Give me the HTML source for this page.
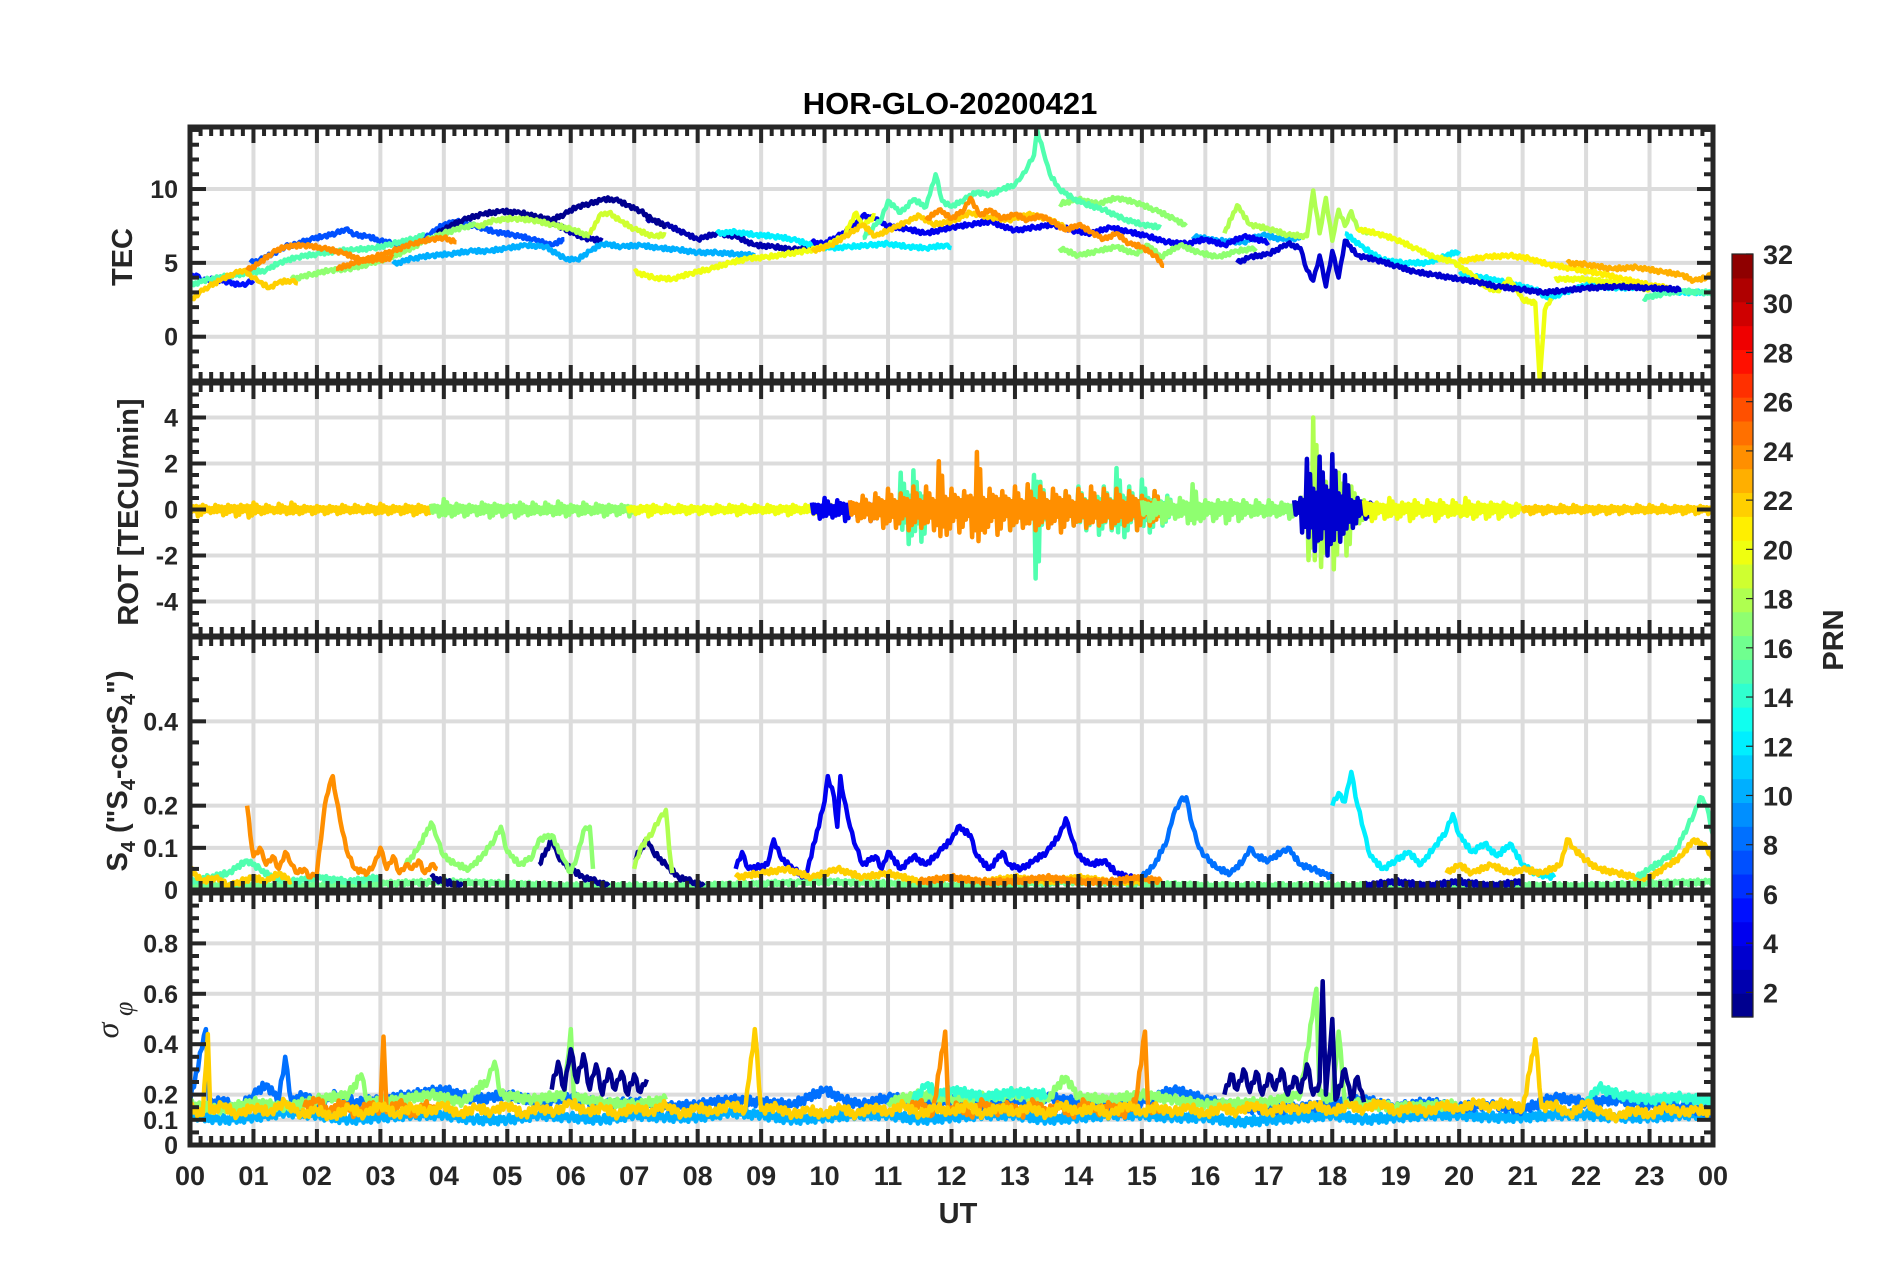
<!DOCTYPE html>
<html><head><meta charset="utf-8"><style>
html,body{margin:0;padding:0;background:#fff;}
svg{display:block;font-family:"Liberation Sans",sans-serif;}
</style></head><body>
<svg id="fig" width="1902" height="1272" viewBox="0 0 1902 1272" xmlns="http://www.w3.org/2000/svg">
<rect x="0" y="0" width="1902" height="1272" fill="#fff"/>
<text x="950" y="114" text-anchor="middle" font-size="31" font-weight="bold" fill="#000">HOR-GLO-20200421</text>
<g id="panels"></g>
<text x="958" y="1223" text-anchor="middle" font-size="29" font-weight="bold" fill="#262626">UT</text>
<text transform="translate(132,257) rotate(-90)" text-anchor="middle" font-size="29" font-weight="bold" fill="#262626">TEC</text>
<text transform="translate(138,512) rotate(-90)" text-anchor="middle" font-size="29" font-weight="bold" fill="#262626">ROT [TECU/min]</text>
<text transform="translate(127,771) rotate(-90)" text-anchor="middle" font-size="29" font-weight="bold" fill="#262626">S<tspan font-size="20" dy="8">4</tspan><tspan dy="-8"> ("S</tspan><tspan font-size="20" dy="8">4</tspan><tspan dy="-8">-corS</tspan><tspan font-size="20" dy="8">4</tspan><tspan dy="-8">")</tspan></text>
<text transform="translate(118,1020) rotate(-90)" text-anchor="middle" font-size="32" font-style="italic" font-family="Liberation Serif, serif" fill="#262626">σ<tspan font-size="26" dy="14"> φ</tspan></text>
<g id="cbar"></g>
<text transform="translate(1843,640) rotate(-90)" text-anchor="middle" font-size="29" font-weight="bold" fill="#262626">PRN</text>
</svg>
<script>
// ---------- TEC data [UT hour, TEC] ----------
const tecPrn5=[[0,4.0],[0.1,4.2],[0.2,3.8],[0.4,3.9],[0.6,3.7],[0.8,3.5],[0.9,3.6],[1.0,3.8]];
const tecPrn7=[[0.95,5.0],[1.1,5.2],[1.3,5.6],[1.5,6.1],[1.7,6.3],[1.9,6.6],[2.1,6.8],[2.3,7.0],[2.45,7.3],[2.6,6.9],[2.8,6.8],[3.0,6.5],[3.2,6.3],[3.4,6.2],[3.6,6.5],[3.8,7.0],[4.0,7.6],[4.2,7.8],[4.5,7.5],[4.8,7.1],[5.1,6.9],[5.4,6.6],[5.7,6.2],[5.9,6.6]];
const tecPrn1=[[3.9,7.0],[4.1,7.5],[4.3,7.9],[4.6,8.3],[4.9,8.5],[5.2,8.4],[5.5,8.1],[5.7,7.9],[5.9,8.3],[6.1,8.8],[6.3,9.0],[6.5,9.3],[6.7,9.3],[6.9,8.9],[7.1,8.5],[7.3,7.9],[7.5,7.5]];
const tecPrn2=[[5.6,8.0],[5.9,7.3],[6.2,6.7],[6.5,6.5],null,[7.2,8.0],[7.5,7.6],[7.8,7.0],[8.0,6.6],[8.3,7.0],[8.6,6.8],[8.9,6.2],[9.2,6.1],[9.5,5.9],[9.8,6.0]];
const tecPrn4=[[9.8,6.4],[10.0,6.3],[10.2,6.8],[10.4,7.2],[10.6,8.2],[10.8,8.0],[11.0,7.5],[11.3,7.3],[11.6,7.0],[12.0,7.4],[12.3,7.6],[12.6,7.8],[13.0,7.2],[13.3,7.4],[13.6,7.6],[13.9,7.2],[14.2,7.0],[14.5,7.4],[14.8,7.1],[15.1,6.8],[15.4,6.4],[15.7,6.3],[16.0,6.6],[16.3,6.2],[16.6,6.8],[17.0,6.4]];
const tecPrn3=[[16.5,5.0],[16.7,5.4],[17.0,5.6],[17.3,6.3],[17.5,6.0],[17.6,4.5],[17.7,3.8],[17.8,5.5],[17.9,3.4],[18.0,5.8],[18.1,4.0],[18.2,6.5],[18.4,5.5],[18.7,5.2],[19.0,4.8],[19.3,4.4],[19.6,4.2],[20.0,3.9],[20.3,3.7],[20.6,3.4],[21.0,3.2],[21.3,3.0],[21.6,3.1],[22.0,3.3],[22.5,3.4],[23.0,3.3],[23.5,3.2]];
const tecPrn10=[[3.2,4.9],[3.5,5.3],[3.8,5.5],[4.1,5.6],[4.4,5.8],[4.7,5.8],[5.0,6.0],[5.3,6.2],[5.6,6.1],[5.9,5.3],[6.1,5.2],[6.3,5.8],[6.5,6.3],[6.8,6.1],[7.1,6.2],[7.4,6.0],[7.7,5.9],[8.0,5.7],[8.3,5.7],[8.6,5.6],[8.9,5.5],null,[15.8,6.8],[16.2,6.5],[16.6,6.4],[16.9,6.9],[17.2,6.6],[17.5,6.7]];
const tecPrn12=[[8.3,7.0],[8.6,7.1],[8.9,6.9],[9.2,6.8],[9.5,6.6],[9.8,6.2],[10.1,6.0],[10.4,6.1],[10.7,6.2],[11.0,6.3],[11.3,6.1],[11.6,6.0],[11.9,6.2],[12.0,6.0],null,[18.2,7.0],[18.5,6.0],[18.8,5.2],[19.1,5.0],[19.5,5.0],[19.8,5.5],[20.0,5.8],null,[20.0,4.2],[20.4,4.0],[20.8,3.6],[21.2,3.2],[21.4,2.6],[21.6,2.9],[22.0,3.5],[22.5,3.3],[23.0,3.4],[23.5,3.0],[24,3.0]];
const tecPrn15=[[0,3.5],[0.3,3.9],[0.6,4.1],[0.9,4.3],[1.2,4.5],[1.4,5.0],[1.7,5.4],[2.0,5.6],[2.3,5.8],[2.6,5.9],[2.9,6.0],[3.2,6.3],[3.5,6.6],[3.7,6.9],null,[10.6,6.7],[10.9,8.0],[11.0,9.2],[11.2,8.4],[11.4,9.3],[11.6,8.8],[11.75,11.0],[11.85,9.2],[12.0,8.8],[12.2,9.3],[12.4,9.8],[12.6,9.6],[12.8,10.0],[13.0,10.3],[13.1,10.8],[13.2,11.5],[13.3,12.3],[13.35,14.0],[13.45,12.5],[13.55,11.0],[13.7,10.0],[13.9,9.4],[14.1,9.0],[14.4,8.6],[14.7,8.0],[15.0,7.6],[15.3,7.4],null,[22.9,2.6],[23.2,2.9],[23.5,3.1],[23.8,3.0],[24,3.0]];
const tecPrn17=[[1.6,3.9],[1.9,4.2],[2.2,4.5],[2.5,4.6],[2.8,4.9],[3.1,5.3],[3.4,5.8],[3.7,6.5],[4.0,7.0],[4.3,7.4],[4.5,7.6],null,[13.7,9.0],[14.0,9.3],[14.3,9.0],[14.6,9.4],[14.9,9.1],[15.2,8.6],[15.5,8.0],[15.7,7.5],null,[13.7,6.0],[14.0,5.5],[14.3,5.8],[14.6,6.1],[14.9,5.6],[15.1,6.2],[15.3,5.4],[15.6,6.2],[15.9,5.7],[16.2,5.4],[16.5,5.8],[16.8,6.0]];
const tecPrn18=[[4.5,7.4],[4.8,7.9],[5.1,8.0],[5.4,7.9],[5.7,7.6],[6.0,7.3],[6.3,6.8],null,[16.3,7.0],[16.5,8.9],[16.7,7.6],[17.0,7.3],[17.3,6.9],[17.6,6.8],[17.7,9.9],[17.8,7.0],[17.9,9.4],[18.0,6.5],[18.1,8.6],[18.2,7.5],[18.3,8.5],[18.4,7.3],[18.6,7.0]];
const tecPrn19=[[6.3,6.9],[6.45,8.2],[6.6,8.4],[6.8,7.8],[7.0,7.3],[7.3,6.8],[7.5,6.9]];
const tecPrn20=[[7.0,4.4],[7.3,4.0],[7.6,3.9],[7.9,4.3],[8.2,4.6],[8.5,5.0],[8.8,5.3],[9.1,5.4],[9.4,5.6],[9.7,5.8],[10.0,6.1],[10.3,6.8],[10.5,8.4],[10.6,7.5],[10.8,8.2],null,[18.4,7.3],[18.7,7.0],[19.0,6.6],[19.3,6.0],[19.6,5.4],[19.9,5.1],[20.2,4.2],[20.4,3.4],[20.6,3.1],[20.8,3.9],[21.0,2.5],[21.2,2.3],[21.27,-3.0],[21.35,1.8],[21.45,2.6],null,[21.5,3.9],[22.0,3.9],[22.5,3.6],[23.0,3.2]];
const tecPrn21=[[20.0,5.1],[20.4,5.4],[20.8,5.5],[21.1,5.3],[21.4,4.9],[21.8,4.6],[22.2,4.3],[22.6,3.9],[23.0,3.5],[23.3,3.3]];
const tecPrn22=[[0,2.4],[0.15,3.0],[0.3,3.4],[0.5,3.9],[0.7,4.3],[0.85,4.5],[1.0,4.0],[1.1,3.7],[1.25,3.3],[1.4,3.7],[1.6,3.8],[1.7,3.6],null,[9.8,5.8],[10.1,6.2],[10.4,7.0],[10.6,7.6],[10.8,6.8],[11.0,7.2],[11.3,7.8],[11.5,8.2],[11.7,7.6],[12.0,7.8],[12.3,8.4],[12.6,8.1],[12.9,7.9],[13.2,8.3],[13.5,8.0],[13.8,7.4]];
const tecPrn23=[[21.7,5.0],[22.0,4.9],[22.4,4.6],[22.8,4.7],[23.2,4.4],[23.5,4.2],[23.7,3.8],[23.9,4.0],[24,4.5]];
const tecPrn24=[[0.9,4.5],[1.1,5.0],[1.3,5.7],[1.5,6.1],[1.8,6.2],[2.1,6.0],[2.4,5.7],[2.7,5.2],[3.0,5.2],[3.2,5.4],null,[2.3,4.6],[2.6,5.0],[2.9,5.4],[3.2,5.8],[3.5,6.3],[3.8,6.6],[4.0,6.7],[4.2,6.4],null,[11.6,7.9],[11.8,8.6],[12.0,8.0],[12.2,8.6],[12.3,9.4],[12.45,8.2],[12.6,8.6],[12.8,8.0],[13.0,8.3],[13.2,7.9],[13.4,8.2],[13.6,7.8],[13.8,7.2],[14.0,7.6],[14.2,7.1],[14.4,6.6],[14.6,7.0],[14.8,6.3],[15.0,6.1],[15.2,5.5],[15.35,4.8]];

// ---------- ROT amplitude data (start hour, 0.1 h step) ----------
const rotPrn22a=[0.2,0.3,0.2,0.15,0.2,0.25,0.2,0.3,0.2,0.35,0.3,0.2,0.2,0.15,0.25,0.2,0.3,0.2,0.15,0.2,0.15,0.2,0.15,0.2,0.2,0.15,0.2,0.15,0.2,0.2,0.25,0.2,0.15,0.2,0.2,0.25,0.2,0.2,0.15,0.2];
const rotPrn17a=[0.25,0.3,0.45,0.3,0.25,0.3,0.2,0.25,0.3,0.35,0.25,0.3,0.2,0.35,0.3,0.25,0.3,0.2,0.3,0.25,0.35,0.3,0.2,0.25,0.3,0.2,0.25,0.3,0.2,0.25,0.2,0.3];
const rotPrn20a=[0.15,0.2,0.15,0.3,0.2,0.15,0.2,0.15,0.2,0.2,0.15,0.2,0.15,0.2,0.2,0.15,0.2,0.25,0.2,0.15,0.2,0.15,0.2,0.2,0.15,0.25,0.2,0.15,0.2,0.2,0.15,0.2,0.2];
const rotPrn4a=[0.3,0.4,0.5,0.35,0.4,0.5,0.3,0.45,0.4,0.5,0.35,0.4];
const rotPrn15a=[0.5,0.6,1.6,1.5,1.7,1.4,0.8,0.7,0.6,0.8,0.7,0.6,0.7,0.8,0.9,0.7,0.6,0.8,0.7,0.9,0.8,0.7,1.0,3.0,1.2,0.8,0.7,0.9,0.8,0.7,1.0,0.9,0.8,1.1,1.0,0.9,1.8,1.2,1.0,0.9,1.3,1.0,0.8,0.7,0.6];
const rotPrn24a=[0.4,0.5,0.6,0.5,0.7,0.8,0.9,0.8,0.7,0.9,1.0,0.8,1.0,0.9,2.1,1.1,0.9,1.0,0.8,1.2,2.5,1.0,0.9,1.1,0.8,0.9,1.0,0.8,1.1,0.9,1.0,0.8,0.9,1.0,0.8,0.7,0.9,0.8,1.0,0.7,0.9,0.8,0.9,0.7,0.8,0.9,0.6,0.7,0.8,0.5];
const rotPrn17b=[0.4,0.5,0.4,0.6,0.5,0.4,0.5,0.6,1.1,0.5,0.4,0.5,0.4,0.6,0.4,0.5,0.4,0.3,0.4,0.3,0.4,0.3,0.3,0.4,0.3];
const rotPrn18a=[0.6,2.2,4.0,2.5,1.2,2.6,1.6,2.0,1.0,0.6,0.4];
const rotPrn3a=[0.4,1.0,2.2,1.8,2.3,2.0,2.4,1.4,1.5,0.8,0.5,0.4,0.3];
const rotPrn20b=[0.4,0.5,0.3,0.4,0.5,0.4,0.3,0.5,0.4,0.3,0.4,0.5,0.4,0.3,0.4,0.3,0.5,0.4,0.3,0.4,0.3,0.4,0.3,0.3,0.25];
const rotPrn22b=[0.15,0.2,0.15,0.2,0.15,0.15,0.2,0.15,0.2,0.15,0.15,0.2,0.15,0.2,0.15,0.2,0.15,0.15,0.2,0.15,0.2,0.15,0.2,0.15,0.15,0.2,0.15,0.2,0.15,0.2];
const rotStarts=[0,3.8,6.9,9.8,11.0,10.4,15.0,17.5,17.4,18.5,21.0];

// ---------- S4 data ----------
const s4Prn16=[[0,0.01],[2,0.01],[4,0.02],[6,0.01],[8,0.01],[10,0.02],[12,0.01],[14,0.02],[16,0.01],[18,0.01],[20,0.01],[22,0.01],[24,0.02]];
const s4Prn2=[[18.5,0.01],[19,0.02],[19.5,0.01],[20,0.02],[20.5,0.01],[21,0.02]];
const s4Prn15a=[[0,0.02],[0.3,0.03],[0.6,0.04],[0.9,0.07],[1.1,0.05],[1.3,0.03],[1.6,0.02],[2.0,0.03],[2.5,0.02],[3.0,0.03]];
const s4Prn22a=[[0,0.05],[0.2,0.02],[0.4,0.03],[0.6,0.01],[0.8,0.02],[1.0,0.03],[1.2,0.02],[1.4,0.04],[1.6,0.02]];
const s4Prn24=[[0.9,0.20],[0.95,0.13],[1.0,0.08],[1.1,0.10],[1.2,0.06],[1.3,0.08],[1.4,0.05],[1.5,0.09],[1.6,0.06],[1.7,0.04],[1.8,0.05],[1.9,0.03],[2.0,0.04],[2.1,0.17],[2.15,0.22],[2.2,0.25],[2.25,0.27],[2.3,0.22],[2.4,0.14],[2.5,0.08],[2.6,0.05],[2.8,0.04],[2.9,0.06],[3.0,0.10],[3.1,0.05],[3.2,0.08],[3.3,0.04],[3.4,0.06],[3.5,0.05],[3.6,0.07],[3.7,0.04],[3.8,0.06],[3.9,0.05]];
const s4Prn1=[[3.8,0.03],[4.0,0.02],[4.3,0.01],null,[5.5,0.06],[5.7,0.12],[5.8,0.08],[6.0,0.05],[6.2,0.03],[6.4,0.02],[6.6,0.01],null,[7.0,0.07],[7.2,0.12],[7.3,0.09],[7.5,0.06],[7.7,0.03],[7.9,0.02],[8.1,0.01]];
const s4Prn17=[[3.4,0.06],[3.6,0.10],[3.8,0.16],[3.9,0.12],[4.0,0.08],[4.2,0.06],[4.4,0.05],[4.6,0.08],[4.8,0.12],[4.9,0.15],[5.0,0.09],[5.2,0.06],[5.4,0.08],[5.5,0.12],[5.7,0.13],[5.9,0.07],[6.0,0.04],[6.1,0.08],[6.2,0.14],[6.3,0.15],[6.35,0.05]];
const s4Prn18=[[7.0,0.05],[7.1,0.10],[7.3,0.14],[7.4,0.17],[7.5,0.19],[7.55,0.10],[7.6,0.04]];
const s4Prn22b=[[8.6,0.03],[9.0,0.04],[9.4,0.05],[9.8,0.03],[10.2,0.05],[10.6,0.03],[11.0,0.04],[11.5,0.02],[12.0,0.03],[12.5,0.02],[13.0,0.03],[13.5,0.02],[14.0,0.03],[14.5,0.02],[15.0,0.02]];
const s4Prn24b=[[11.5,0.02],[12,0.03],[12.5,0.02],[13,0.02],[13.5,0.03],[14,0.02],[14.5,0.02],[15.0,0.03],[15.3,0.02]];
const s4Prn4=[[8.6,0.05],[8.7,0.09],[8.8,0.05],[9.1,0.06],[9.2,0.12],[9.3,0.08],[9.5,0.05],[9.7,0.03],[10.0,0.21],[10.05,0.27],[10.15,0.22],[10.2,0.15],[10.25,0.27],[10.3,0.22],[10.4,0.15],[10.5,0.10],[10.6,0.06],[10.8,0.08],[10.9,0.05],[11.0,0.09],[11.2,0.05],[11.4,0.08],[11.6,0.06],[11.8,0.09],[12.0,0.12],[12.1,0.15],[12.3,0.13],[12.4,0.08],[12.6,0.05],[12.8,0.09],[12.9,0.06],[13.1,0.05],[13.3,0.07],[13.5,0.09],[13.7,0.13],[13.8,0.17],[13.9,0.12],[14.0,0.08],[14.2,0.06],[14.4,0.07],[14.6,0.04],[14.8,0.03],[15.0,0.02]];
const s4Prn8=[[15.0,0.03],[15.2,0.06],[15.4,0.12],[15.5,0.18],[15.6,0.21],[15.7,0.22],[15.8,0.15],[15.9,0.10],[16.0,0.08],[16.2,0.05],[16.4,0.04],[16.6,0.07],[16.7,0.10],[16.8,0.08],[17.0,0.07],[17.2,0.09],[17.3,0.10],[17.5,0.06],[17.7,0.05],[18.0,0.03]];
const s4Prn12=[[18.0,0.20],[18.1,0.23],[18.2,0.21],[18.3,0.28],[18.4,0.20],[18.5,0.14],[18.6,0.08],[18.8,0.05],[19.0,0.07],[19.2,0.09],[19.4,0.06],[19.6,0.10],[19.8,0.14],[19.9,0.18],[20.0,0.13],[20.2,0.09],[20.4,0.11],[20.6,0.08],[20.8,0.11],[21.0,0.06],[21.2,0.04],[21.5,0.03]];
const s4Prn22c=[[19.8,0.04],[20.0,0.06],[20.2,0.04],[20.5,0.06],[20.8,0.04],[21.0,0.05],[21.3,0.04],[21.6,0.06],[21.7,0.12],[21.8,0.10],[22.0,0.07],[22.2,0.05],[22.5,0.04],[22.8,0.03],[23.0,0.03],[23.3,0.06],[23.5,0.08],[23.7,0.12],[23.9,0.10],[24,0.07]];
const s4Prn15b=[[22.8,0.03],[23.0,0.05],[23.2,0.07],[23.4,0.09],[23.6,0.15],[23.7,0.18],[23.8,0.22],[23.9,0.20],[24,0.13]];

// ---------- sigma-phi data ----------
const sigPrn10=[[0,0.12],[0.5,0.10],[1,0.11],[1.5,0.13],[2,0.12],[2.5,0.10],[3,0.11],[3.5,0.12],[4,0.12],[4.5,0.10],[5,0.10],[5.5,0.12],[6,0.11],[6.5,0.10],[7,0.12],[7.5,0.11],[8,0.11],[8.5,0.13],[9,0.12],[9.5,0.10],[10,0.11],[10.5,0.12],[11,0.12],[11.5,0.10],[12,0.11],[12.5,0.12],[13,0.12],[13.5,0.10],[14,0.11],[14.5,0.12],[15,0.12],[15.5,0.11],[16,0.11],[16.5,0.09],[17,0.10],[17.5,0.11],[18,0.12],[18.5,0.10],[19,0.11],[19.5,0.12],[20,0.12],[20.5,0.11],[21,0.11],[21.5,0.12],[22,0.12],[22.5,0.11],[23,0.11],[23.5,0.12],[24,0.12]];
const sigPrn8=[[0,0.17],[0.25,0.46],[0.3,0.16],[0.5,0.18],[0.75,0.14],[1.0,0.2],[1.2,0.24],[1.4,0.18],[1.5,0.35],[1.6,0.17],[1.8,0.2],[2.0,0.16],[2.3,0.2],[2.6,0.17],[3,0.18],[3.5,0.2],[4,0.22],[4.5,0.18],[5,0.2],[5.5,0.17],[6,0.19],[6.5,0.16],[7,0.17],[7.5,0.15],[8,0.16],[8.5,0.18],[9,0.17],[9.5,0.16],[10,0.22],[10.3,0.18],[10.6,0.16],[11,0.19],[11.5,0.17],[12,0.18],[12.5,0.16],[13,0.17],[13.5,0.19],[14,0.17],[14.5,0.16],[15,0.17],[15.5,0.22],[16,0.18],[16.5,0.15],[17,0.14],[17.5,0.15],[18,0.16],[18.5,0.18],[19,0.15],[19.5,0.17],[20,0.15],[20.5,0.16],[21,0.14],[21.5,0.19],[22,0.17],[22.5,0.18],[23,0.16],[23.5,0.15],[24,0.13]];
const sigPrn17=[[0,0.16],[0.5,0.14],[1,0.17],[1.5,0.15],[2,0.18],[2.5,0.2],[2.7,0.28],[2.8,0.17],[3.3,0.18],[3.8,0.2],[4.3,0.17],[4.7,0.26],[4.8,0.33],[4.9,0.2],[5.4,0.18],[5.9,0.2],[6.0,0.46],[6.05,0.19],[6.5,0.17],[7,0.16],[7.5,0.18],null,[11,0.17],[11.5,0.2],[12,0.18],[13,0.2],[13.5,0.18],[13.8,0.27],[14,0.19],[14.5,0.18],[15,0.2],[15.5,0.18],[16,0.16],[17,0.17],[17.5,0.2],[17.75,0.62],[17.8,0.2],[18,0.18],[18.1,0.45],[18.2,0.17],[19,0.15],[20,0.16]];
const sigPrn14=[[11.4,0.18],[11.6,0.24],[11.8,0.2],[12,0.22],[12.5,0.19],[13,0.21],[13.5,0.2],null,[22,0.17],[22.2,0.23],[22.5,0.2],[23,0.18],[23.5,0.19],[24,0.17]];
const sigPrn1=[[5.7,0.22],[5.8,0.33],[5.9,0.22],[6.0,0.38],[6.1,0.25],[6.2,0.36],[6.3,0.22],[6.4,0.32],[6.5,0.2],[6.6,0.3],[6.7,0.22],[6.8,0.29],[6.9,0.2],[7.0,0.28],[7.1,0.21],[7.2,0.26],null,[16.3,0.2],[16.4,0.28],[16.5,0.22],[16.6,0.3],[16.7,0.21],[16.8,0.29],[16.9,0.2],[17.0,0.28],[17.1,0.22],[17.2,0.3],[17.3,0.2],[17.4,0.27],[17.5,0.21],[17.6,0.32],[17.7,0.2],[17.8,0.25],[17.85,0.65],[17.9,0.2],[18.0,0.5],[18.05,0.18],[18.2,0.3],[18.3,0.18],[18.4,0.27],[18.5,0.17]];
const sigPrn24=[[1.8,0.15],[2,0.18],[2.2,0.13],[2.4,0.17],[2.6,0.12],[2.8,0.16],[3.0,0.14],[3.05,0.43],[3.1,0.13],[3.3,0.17],[3.5,0.12],[3.7,0.16],[3.9,0.13],null,[11.3,0.14],[11.5,0.17],[11.7,0.12],[11.9,0.45],[11.95,0.13],[12.1,0.16],[12.3,0.12],[12.5,0.17],[12.7,0.13],[12.9,0.16],[13.1,0.12],[13.3,0.17],[13.5,0.13],[13.7,0.16],[13.9,0.12],[14.1,0.17],[14.3,0.13],[14.5,0.16],[14.7,0.12],[14.9,0.17],[15.05,0.45],[15.1,0.14],[15.3,0.15]];
const sigPrn22=[[0,0.15],[0.2,0.12],[0.28,0.44],[0.32,0.13],[0.5,0.16],[0.75,0.12],[1,0.15],[1.25,0.13],[1.5,0.17],[1.75,0.12],[2,0.14],[2.25,0.11],[2.5,0.15],[2.75,0.12],[3,0.16],[3.25,0.12],[3.5,0.15],[3.75,0.13],[4,0.16],[4.25,0.12],[4.5,0.15],[4.75,0.13],[5,0.16],[5.25,0.12],[5.5,0.15],[5.75,0.13],[6,0.17],[6.25,0.13],[6.5,0.15],[6.75,0.12],[7,0.15],[7.25,0.13],[7.5,0.16],[7.75,0.12],[8,0.15],[8.25,0.13],[8.5,0.16],[8.75,0.14],[8.9,0.46],[9.0,0.14],[9.25,0.15],[9.5,0.12],[9.75,0.14],[10,0.12],[10.25,0.15],[10.5,0.12],[10.75,0.15],[11,0.13],[11.25,0.16],[11.5,0.12],[11.75,0.15],[12,0.13],[12.25,0.16],[12.5,0.12],[12.75,0.15],[13,0.13],[13.25,0.15],[13.5,0.12],[13.75,0.16],[14,0.13],[14.25,0.15],[14.5,0.12],[14.75,0.16],[15,0.13],[15.25,0.15],[15.5,0.13],[15.75,0.15],[16,0.12],[16.25,0.15],[16.5,0.13],[16.75,0.16],[17,0.13],[17.25,0.15],[17.5,0.14],[17.75,0.16],[18,0.13],[18.25,0.16],[18.5,0.14],[18.75,0.17],[19,0.13],[19.25,0.15],[19.5,0.13],[19.75,0.16],[20,0.14],[20.25,0.17],[20.5,0.15],[20.75,0.17],[21,0.14],[21.2,0.42],[21.3,0.15],[21.5,0.16],[21.75,0.12],[22,0.17],[22.25,0.13],[22.5,0.11],[22.75,0.14],[23,0.12],[23.25,0.15],[23.5,0.13],[23.75,0.14],[24,0.13]];

// ---------- axis tick labels ----------
const hourLabels=["00","01","02","03","04","05","06","07","08","09","10","11","12","13","14","15","16","17","18","19","20","21","22","23","00"];
const tecTicks=[0,5,10];
const rotTicks=[-4,-2,0,2,4];
const s4Ticks=[0,0.1,0.2,0.4];
const sigTicks=[0,0.1,0.2,0.4,0.6,0.8];
const cbarTicks=[2,4,6,8,10,12,14,16,18,20,22,24,26,28,30,32];

const NS="http://www.w3.org/2000/svg";
const X0=190,X1=1713;
const xs=h=>X0+(X1-X0)*h/24;
function jet(i,n){const x=(i+0.5)/n;const c=v=>Math.round(255*Math.max(0,Math.min(1,v)));
 return `rgb(${c(1.5-Math.abs(4*x-3))},${c(1.5-Math.abs(4*x-2))},${c(1.5-Math.abs(4*x-1))})`;}
const prnColor=p=>jet(p-1,32);
function mk(tag,attrs,parent){const e=document.createElementNS(NS,tag);for(const k in attrs)e.setAttribute(k,attrs[k]);parent.appendChild(e);return e;}
const root=document.getElementById('panels');
const panels={
 tec:{top:127,bot:381,min:-3,max:14.2,minor:1,ticks:tecTicks,fmt:v=>String(v),rip:0.13},
 rot:{top:383,bot:636,min:-5.5,max:5.5,minor:0.5,ticks:rotTicks,fmt:v=>String(v),rip:0},
 s4:{top:637,bot:890,min:0,max:0.6,minor:0.05,ticks:s4Ticks,fmt:v=>String(v),rip:0.006},
 sig:{top:893,bot:1145,min:0,max:1,minor:0.05,ticks:sigTicks,fmt:v=>String(v),rip:0.018}
};
function ys(p,v){return p.bot-(v-p.min)/(p.max-p.min)*(p.bot-p.top);}
// visual jitter pattern (rendering texture only)
const texture=[1,-0.7,0.4,-1,0.8,-0.3,0.6,-0.9];
function pathFrom(p,pts){let d='',prev=null,k=0;
 for(const q of pts){
  if(!q){prev=null;continue;}
  if(!prev){d+='M'+xs(q[0]).toFixed(1)+','+ys(p,q[1]).toFixed(1);prev=q;continue;}
  const dt=q[0]-prev[0];const n=p.rip>0?Math.max(1,Math.round(dt/0.03)):1;
  for(let s=1;s<=n;s++){const f=s/n;const t=prev[0]+dt*f;let v=prev[1]+(q[1]-prev[1])*f;
   if(s<n){v+=p.rip*texture[k%texture.length];k++;}
   d+='L'+xs(t).toFixed(1)+','+ys(p,v).toFixed(1);}
  prev=q;}
 return d;}

Object.keys(panels).forEach((key)=>{
 const p=panels[key];
 const g=mk('g',{},root);
 
 
 const cp=mk('clipPath',{id:'clip-'+key},g);
 mk('rect',{x:X0,y:p.top,width:X1-X0,height:p.bot-p.top},cp);
 const grid=mk('g',{stroke:'#dcdcdc','stroke-width':4},g);
 
 
 for(let h=1;h<24;h++) mk('line',{x1:xs(h),x2:xs(h),y1:p.top,y2:p.bot},grid);
 p.ticks.forEach(v=>{mk('line',{x1:X0,x2:X1,y1:ys(p,v),y2:ys(p,v)},grid);});
 p.series=mk('g',{'clip-path':`url(#clip-${key})`,fill:'none','stroke-width':4.5,'stroke-linejoin':'round'},g);
 
 
 p.axis=g;
});

function drawLine(key,pts,prn,name){const p=panels[key];
 const e=mk('path',{d:pathFrom(p,pts),stroke:prnColor(prn)},p.series);
 
 }

[[5,tecPrn5],[7,tecPrn7],[2,tecPrn2],[1,tecPrn1],[10,tecPrn10],[12,tecPrn12],[4,tecPrn4],[17,tecPrn17],[15,tecPrn15],[18,tecPrn18],[19,tecPrn19],[20,tecPrn20],[21,tecPrn21],[22,tecPrn22],[23,tecPrn23],[24,tecPrn24],[3,tecPrn3]]
 .forEach(s=>drawLine('tec',s[1],s[0],'tec-line-prn'+s[0]));

const rotShape=[1,-0.55,0.7,-0.35,0.5,-1,0.4,-0.75];
[[22,rotPrn22a],[17,rotPrn17a],[20,rotPrn20a],[4,rotPrn4a],[15,rotPrn15a],[24,rotPrn24a],[17,rotPrn17b],[18,rotPrn18a],[3,rotPrn3a],[20,rotPrn20b],[22,rotPrn22b]]
 .forEach((s,i)=>{const t0=rotStarts[i];const pts=[];
  s[1].forEach((a,j)=>{for(let q=0;q<4;q++){pts.push([t0+j*0.1+q*0.025,a*rotShape[(j*4+q)%rotShape.length]]);}});
  drawLine('rot',pts,s[0],'rot-line-prn'+s[0]);});

[[16,s4Prn16],[2,s4Prn2],[15,s4Prn15a],[22,s4Prn22a],[1,s4Prn1],[17,s4Prn17],[18,s4Prn18],[4,s4Prn4],[22,s4Prn22b],[24,s4Prn24b],[8,s4Prn8],[12,s4Prn12],[22,s4Prn22c],[15,s4Prn15b],[24,s4Prn24]]
 .forEach(s=>drawLine('s4',s[1],s[0],'s4-line-prn'+s[0]));

[[10,sigPrn10],[8,sigPrn8],[17,sigPrn17],[14,sigPrn14],[1,sigPrn1],[24,sigPrn24],[22,sigPrn22]]
 .forEach(s=>drawLine('sig',s[1],s[0],'sigma-line-prn'+s[0]));

// frames, ticks, labels
Object.keys(panels).forEach(key=>{
 const p=panels[key],g=p.axis;
 const ax=mk('g',{stroke:'#262626','stroke-width':4,fill:'none'},g);
 
 
 mk('rect',{x:X0,y:p.top,width:X1-X0,height:p.bot-p.top,'stroke-width':5},ax);
 for(let m=0;m<=144;m++){const x=xs(m/6);const L=(m%6===0)?16:9;
  mk('line',{x1:x,x2:x,y1:p.top,y2:p.top+L},ax);mk('line',{x1:x,x2:x,y1:p.bot,y2:p.bot-L},ax);}
 const n=Math.round((p.max-p.min)/p.minor);
 for(let k=0;k<=n;k++){const v=Math.ceil(p.min/p.minor-1e-9)*p.minor+k*p.minor;if(v>p.max+1e-9)break;const y=ys(p,v);
  const major=p.ticks.some(t=>Math.abs(t-v)<1e-6);const L=major?16:9;
  mk('line',{x1:X0,x2:X0+L,y1:y,y2:y},ax);mk('line',{x1:X1,x2:X1-L,y1:y,y2:y},ax);}
 p.ticks.forEach(v=>{const t=mk('text',{x:178,y:ys(p,v)+9,'text-anchor':'end','font-size':25,'font-weight':'bold',fill:'#262626'},g);
  
  
  t.textContent=p.fmt(v);});
});
const xl=mk('g',{'font-size':27,'font-weight':'bold',fill:'#262626','text-anchor':'middle'},document.getElementById('fig'));


hourLabels.forEach((s,i)=>{const t=mk('text',{x:xs(i),y:1185},xl);
 
 
 t.textContent=s;});

// colorbar
const cb=document.getElementById('cbar');const CBX=1732,CBW=21,CBT=254,CBB=1017;
const segH=(CBB-CBT)/32;
for(let i=0;i<32;i++){const r=mk('rect',{x:CBX,y:CBB-(i+1)*segH,width:CBW,height:segH+0.6,fill:jet(i,32)},cb);
 
 }
mk('rect',{x:CBX,y:CBT,width:CBW,height:CBB-CBT,fill:'none',stroke:'#262626','stroke-width':1.2},cb);
const cy=v=>CBB-(v-1)/31*(CBB-CBT);
cbarTicks.forEach(v=>{mk('line',{x1:CBX+CBW-7,x2:CBX+CBW,y1:cy(v),y2:cy(v),stroke:'#262626','stroke-width':1.2},cb);
 const t=mk('text',{x:1763,y:cy(v)+10,'font-size':27,'font-weight':'bold',fill:'#262626'},cb);
 
 
 t.textContent=String(v);});
</script>
</body></html>
